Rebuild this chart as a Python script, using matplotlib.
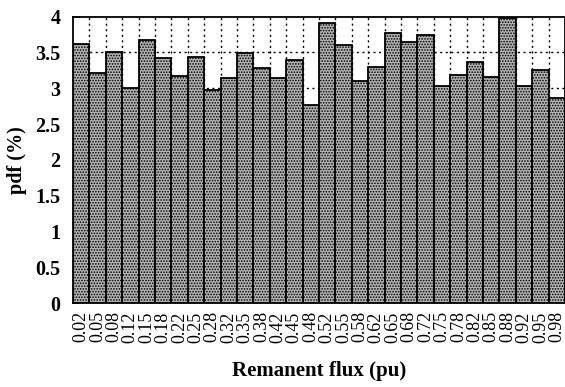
import numpy as np
import matplotlib
matplotlib.use("Agg")
import matplotlib.pyplot as plt

# Remanent flux bins (pu) and probability density (%)
flux_labels = ["0.02", "0.05", "0.08", "0.12", "0.15", "0.18", "0.22", "0.25",
               "0.28", "0.32", "0.35", "0.38", "0.42", "0.45", "0.48", "0.52",
               "0.55", "0.58", "0.62", "0.65", "0.68", "0.72", "0.75", "0.78",
               "0.82", "0.85", "0.88", "0.92", "0.95", "0.98"]
pdf_values = [3.62, 3.21, 3.50, 3.00, 3.68, 3.42, 3.17, 3.44, 2.97, 3.14,
              3.49, 3.28, 3.14, 3.40, 2.76, 3.91, 3.60, 3.10, 3.30, 3.77,
              3.64, 3.75, 3.03, 3.19, 3.36, 3.16, 3.98, 3.03, 3.26, 2.86]

plt.rcParams["font.family"] = ["Liberation Serif", "DejaVu Serif"]
plt.rcParams["hatch.color"] = "#8a8a8a"
plt.rcParams["hatch.linewidth"] = 0.8

fig = plt.figure(figsize=(5.65, 3.87), dpi=100)
ax = fig.add_axes([0.129, 0.217, 0.871, 0.74])

x = np.arange(len(pdf_values))

# dotted grid at every bin edge and every 0.5 %
for edge in x[:-1] + 0.5:
    ax.axvline(edge, color="black", linestyle=(0, (1.5, 2.5)), linewidth=1.0, zorder=0)
for level in np.arange(0.5, 4.0, 0.5):
    ax.axhline(level, color="black", linestyle=(0, (1.5, 2.5)), linewidth=1.0, zorder=0)

ax.bar(x, pdf_values, width=1.0, color="#b4b4b4", edgecolor="black",
       linewidth=1.3, hatch="......", zorder=2)

ax.set_xlim(-0.5, len(pdf_values) - 0.5)
ax.set_ylim(0, 4)
ax.set_yticks(np.arange(0, 4.01, 0.5))
ax.set_yticklabels(["0", "0.5", "1", "1.5", "2", "2.5", "3", "3.5", "4"],
                   fontsize=14.5, fontweight="bold")
ax.set_xticks(x)
ax.set_xticklabels(flux_labels, rotation=90, fontsize=13)
ax.tick_params(axis="y", direction="in", length=5, width=1.2, pad=9)
ax.tick_params(axis="x", length=0, pad=6)

for side in ["top", "left", "bottom", "right"]:
    ax.spines[side].set_linewidth(1.3)

ax.set_ylabel("pdf (%)", fontsize=14.5, fontweight="bold", labelpad=6)
ax.set_xlabel("Remanent flux (pu)", fontsize=15, fontweight="bold", labelpad=13)

fig.savefig("out.png", dpi=100)
